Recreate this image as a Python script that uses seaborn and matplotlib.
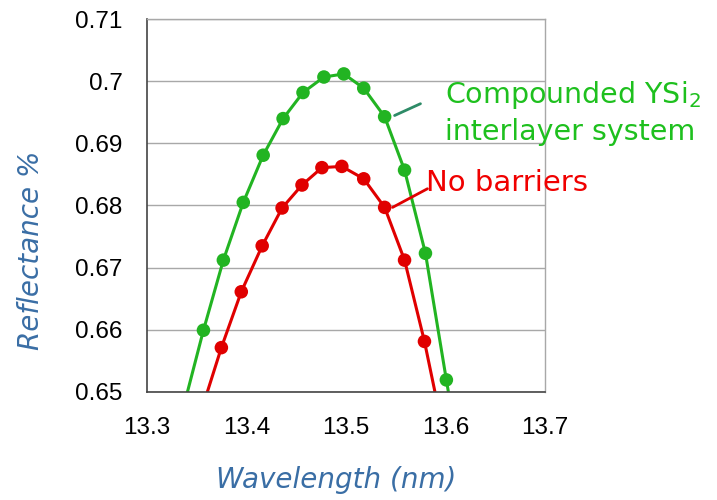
import numpy as np
import pandas as pd
import matplotlib
matplotlib.use("Agg")
import matplotlib.pyplot as plt
import seaborn as sns

# data
ysi_wl = [13.357, 13.377, 13.397, 13.417, 13.437, 13.457, 13.478,
          13.498, 13.518, 13.539, 13.559, 13.580, 13.601]
ysi_refl = [0.6599, 0.6712, 0.6805, 0.6881, 0.6940, 0.6982, 0.7007,
            0.7012, 0.6989, 0.6943, 0.6857, 0.6723, 0.6519]

nob_wl = [13.375, 13.395, 13.416, 13.436, 13.456, 13.476, 13.496,
          13.518, 13.539, 13.559, 13.579]
nob_refl = [0.6571, 0.6661, 0.6735, 0.6796, 0.6833, 0.6861, 0.6863,
            0.6843, 0.6797, 0.6712, 0.6581]

# where the fitted curves leave the bottom of the plot
ysi_ends_wl = [13.341, 13.603]
nob_ends_wl = [13.361, 13.5895]
ends_refl = [0.65, 0.65]

x_ticks = [13.3, 13.4, 13.5, 13.6, 13.7]
y_ticks = [0.65, 0.66, 0.67, 0.68, 0.69, 0.70, 0.71]
y_ticklabels = ['0.65', '0.66', '0.67', '0.68', '0.69', '0.7', '0.71']

green = '#22B422'
red = '#E00000'
label_blue = '#3A6EA5'

ysi_line = pd.DataFrame({'wl': [ysi_ends_wl[0]] + ysi_wl + [ysi_ends_wl[1]],
                         'r': [ends_refl[0]] + ysi_refl + [ends_refl[1]]})
nob_line = pd.DataFrame({'wl': [nob_ends_wl[0]] + nob_wl + [nob_ends_wl[1]],
                         'r': [ends_refl[0]] + nob_refl + [ends_refl[1]]})

sns.set_style('white')
plt.rcParams['font.family'] = ['Liberation Sans', 'DejaVu Sans']
plt.rcParams['mathtext.default'] = 'regular'

fig = plt.figure(figsize=(7.17, 5.0), dpi=100)
ax = fig.add_axes([0.2046, 0.2166, 0.5554, 0.7448])

sns.lineplot(data=ysi_line, x='wl', y='r', sort=False, color=green, lw=2.2, ax=ax)
sns.lineplot(data=nob_line, x='wl', y='r', sort=False, color=red, lw=2.2, ax=ax)
sns.scatterplot(x=ysi_wl, y=ysi_refl, color=green, s=95, edgecolor='none', ax=ax, zorder=3)
sns.scatterplot(x=nob_wl, y=nob_refl, color=red, s=95, edgecolor='none', ax=ax, zorder=3)

ax.set_xlim(13.3, 13.7)
ax.set_ylim(0.65, 0.71)
ax.set_xticks(x_ticks)
ax.set_xticklabels([str(t) for t in x_ticks])
ax.set_yticks(y_ticks)
ax.set_yticklabels(y_ticklabels)
ax.tick_params(axis='both', labelsize=17.5, length=6, width=1, color='#444444',
               labelcolor='black', direction='out', pad=11.5)
ax.tick_params(axis='x', pad=12)
ax.grid(axis='y', color='#A8A8A8', lw=1)
ax.set_axisbelow(True)
for side in ['left', 'bottom']:
    ax.spines[side].set_color('#444444')
    ax.spines[side].set_linewidth(1.2)
for side in ['top', 'right']:
    ax.spines[side].set_color('#A8A8A8')
    ax.spines[side].set_linewidth(1)

ax.set_xlabel('Wavelength (nm)', fontsize=20, style='italic', color=label_blue,
              family='DejaVu Sans')
ax.xaxis.set_label_coords(0.475, -0.2)
ax.set_ylabel('Reflectance %', fontsize=20, style='italic', color=label_blue,
              family='DejaVu Sans')
ax.yaxis.set_label_coords(-0.255, 0.38)

# annotations with leader lines
ax.plot([13.549, 13.575], [0.6945, 0.6964], color='#2E8B67', lw=2, clip_on=False)
ax.text(13.6, 0.6950, 'Compounded YSi$_2$\ninterlayer system', color='#1EC01E',
        fontsize=20.5, family='DejaVu Sans', va='center', ha='left',
        linespacing=1.3, clip_on=False)
ax.plot([13.547, 13.582], [0.6797, 0.6827], color=red, lw=2, clip_on=False)
ax.text(13.581, 0.6836, 'No barriers', color='#F00000', fontsize=21,
        family='DejaVu Sans', va='center', ha='left', clip_on=False)

fig.savefig('out.png', dpi=100)
